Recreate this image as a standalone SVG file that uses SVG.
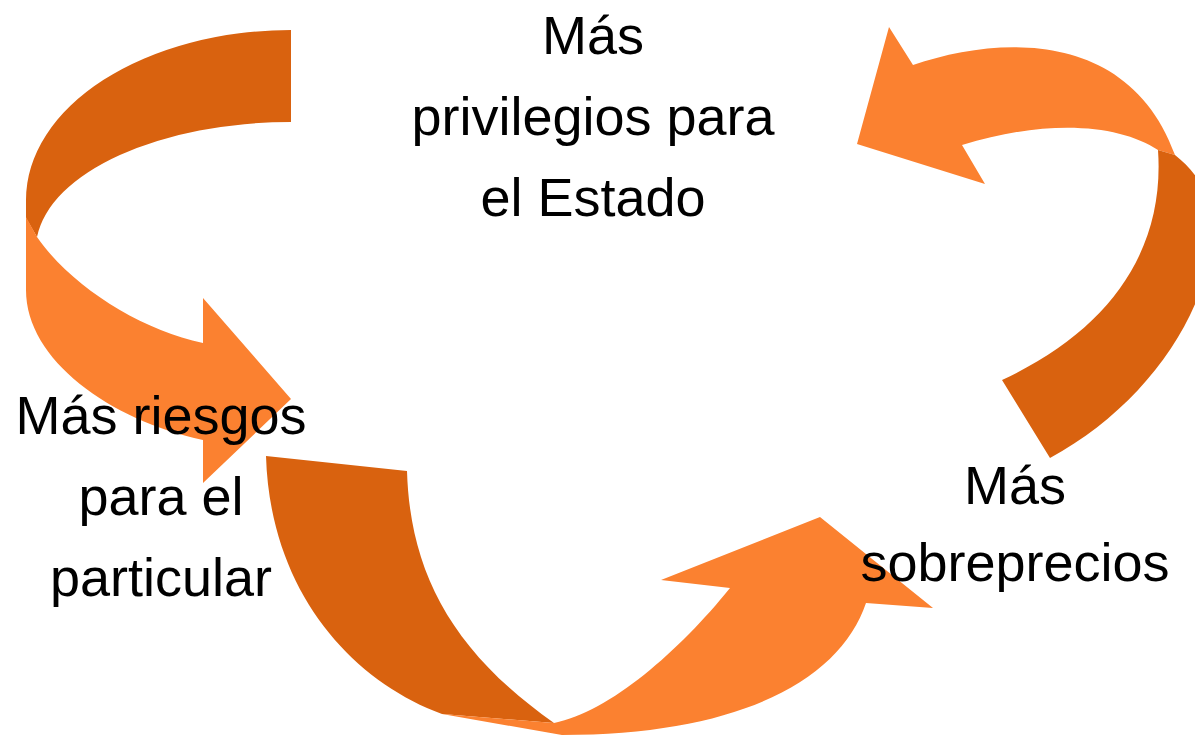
<svg xmlns="http://www.w3.org/2000/svg" width="1195" height="738" viewBox="0 0 1195 738">
<style>
.dark{fill:#D9620F}
.light{fill:#FB8130}
.lbl{font-family:"Liberation Sans",Arial,sans-serif;font-size:54px;fill:#000;text-anchor:middle}
</style>
<rect width="1195" height="738" fill="#fff"/>
<g id="connectors">
  <g id="arrow-left">
    <path class="dark" d="M291,30 A265,170 0 0 0 26,200 L26,218 L37,237 A255,128 0 0 1 291,122 Z"/>
    <path class="light" d="M26,217 L37,237 C70,285 140,330 203,343 L203,298 L291,399 L203,483 L203,440 C110,420 26,360 26,290 Z"/>
  </g>
  <g id="arrow-bottom">
    <path class="dark" d="M266,456 L407,471 C410,570 450,650 554,723 L442,714 C350,680 270,590 266,456 Z"/>
    <path class="light" d="M554,723 C610,712 680,650 730,588 L661,580 L820,517 L933,608 L866,603 C840,680 740,735 562,735 L442,714 Z"/>
  </g>
  <g id="arrow-right">
    <path class="light" d="M857,144 L889,27 L913,65 C1000,35 1130,30 1175,155 L1158,150 C1120,125 1050,118 962,145 L985,184 Z"/>
    <path class="dark" d="M1158,150 C1165,250 1110,330 1002,380 L1050,458 C1140,410 1205,320 1212,240 C1215,200 1200,175 1175,155 Z"/>
  </g>
</g>
<g id="node-estado">
  <text class="lbl" x="593" y="54">Más</text>
  <text class="lbl" x="593" y="135">privilegios para</text>
  <text class="lbl" x="593" y="216">el Estado</text>
</g>
<g id="node-riesgos">
  <text class="lbl" x="161" y="434">Más riesgos</text>
  <text class="lbl" x="161" y="515">para el</text>
  <text class="lbl" x="161" y="596">particular</text>
</g>
<g id="node-sobreprecios">
  <text class="lbl" x="1015" y="504">Más</text>
  <text class="lbl" x="1015" y="581">sobreprecios</text>
</g>
</svg>
